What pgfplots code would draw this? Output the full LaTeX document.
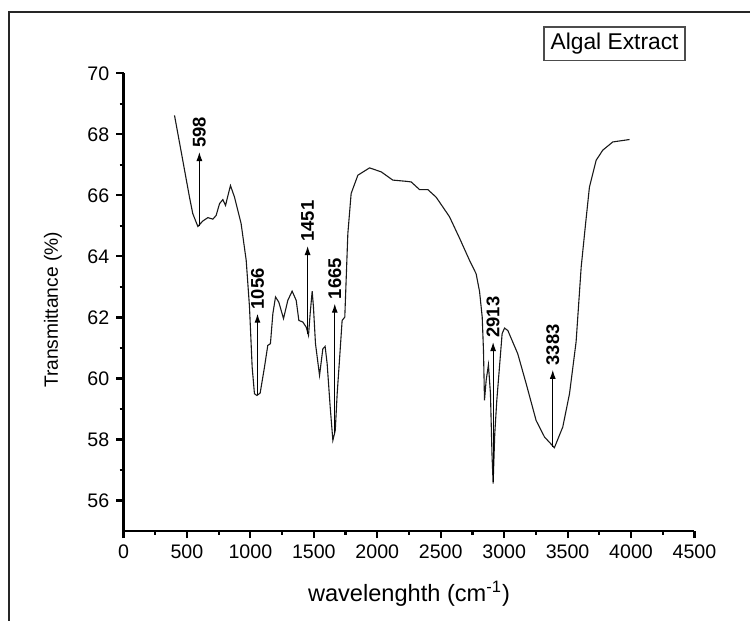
\documentclass[border=0pt]{standalone}
\usepackage{fontspec}
\setmainfont{Liberation Sans}
\usepackage{pgfplots}
\pgfplotsset{compat=1.18}
\usetikzlibrary{arrows.meta}

\begin{document}
\begin{tikzpicture}
\useasboundingbox (0pt,0pt) rectangle (375pt,310.5pt);
\draw[line width=1pt, black!85] (4.25pt,-20pt) rectangle (400pt,304.5pt);
\begin{axis}[
  at={(61.75pt,45pt)}, anchor=south west,
  scale only axis, width=285.5pt, height=228.85pt,
  xmin=0, xmax=4500, ymin=55, ymax=70,
  clip=false,
  axis lines=left,
  axis line style={-, line width=1.1pt, black},
  xtick={0,500,...,4500}, minor x tick num=1,
  ytick={56,58,...,70}, minor y tick num=1,
  tick align=outside,
  major tick length=3.6pt, minor tick length=2pt,
  every tick/.style={black, line width=1.1pt},
  tick label style={font=\fontsize{9.8}{11}\selectfont},
  /pgf/number format/assume math mode=true,
  /pgf/number format/set thousands separator={},
  xlabel={wavelenghth (cm\textsuperscript{-1})},
  ylabel={Transmittance (\%)},
  xlabel style={at={(axis description cs:0.5,-0.1366)}, anchor=center, font=\fontsize{11.8}{14}\selectfont},
  ylabel style={at={(axis description cs:-0.1235,0.483)}, anchor=center, font=\fontsize{9.6}{11}\selectfont},
]
\addplot[black!90, line width=0.55pt] coordinates {
(402,68.62) (467,67.15) (520,65.94) (546,65.40) (586,64.98) (625,65.16)
(665,65.27) (704,65.22) (730,65.34) (757,65.73) (783,65.86) (804,65.67)
(843,66.32) (875,65.94) (927,65.07) (967,63.87) (993,62.34) (1014,60.37)
(1032,59.50) (1051,59.44) (1077,59.52) (1111,60.37) (1137,61.08) (1158,61.14)
(1177,62.12) (1198,62.67) (1224,62.50) (1261,61.96) (1295,62.56) (1329,62.86)
(1361,62.56) (1382,61.90) (1413,61.85) (1440,61.68) (1458,61.41) (1471,62.12)
(1487,62.86) (1497,62.34) (1513,61.14) (1545,60.10) (1571,60.97) (1589,61.05)
(1605,60.48) (1629,59.06) (1650,57.97) (1669,58.30) (1684,59.50) (1702,60.59)
(1723,61.90) (1744,62.01) (1768,64.74) (1794,66.06) (1847,66.66) (1939,66.90)
(2031,66.77) (2122,66.50) (2228,66.46) (2267,66.44) (2333,66.19) (2398,66.19)
(2464,65.94) (2569,65.30) (2648,64.60) (2727,63.87) (2779,63.43) (2806,62.85)
(2827,62.01) (2837,60.92) (2845,59.28) (2858,59.93) (2876,60.45) (2892,59.50)
(2904,57.53) (2913,56.55) (2926,58.19) (2942,59.28) (2963,60.37) (2984,61.47)
(3003,61.65) (3029,61.57) (3107,60.81) (3174,59.82) (3252,58.62) (3318,58.08)
(3396,57.73) (3462,58.41) (3515,59.50) (3567,61.20) (3607,63.65) (3640,65.00)
(3672,66.27) (3725,67.15) (3777,67.48) (3856,67.75) (3988,67.83)
};
\node[draw=black!70, line width=0.6pt, inner sep=0pt, minimum width=70.5pt, minimum height=16.8pt, font=\fontsize{11.4}{14}\selectfont] at (axis description cs:0.86,1.0645) {Algal Extract};
\tikzset{lbl/.style={rotate=90, anchor=west, inner sep=2pt, font=\bfseries\fontsize{9.2}{11}\selectfont}}
\draw[-{Latex[length=4.5pt,width=3pt]}, line width=0.5pt] (axis cs:598,64.98) -- (axis cs:598,67.42) node[lbl] {598};
\draw[-{Latex[length=4.5pt,width=3pt]}, line width=0.5pt] (axis cs:1056,59.46) -- (axis cs:1056,62.12) node[lbl] {1056};
\draw[-{Latex[length=4.5pt,width=3pt]}, line width=0.5pt] (axis cs:1451,61.45) -- (axis cs:1451,64.34) node[lbl] {1451};
\draw[-{Latex[length=4.5pt,width=3pt]}, line width=0.5pt] (axis cs:1665,58.2) -- (axis cs:1665,62.45) node[lbl] {1665};
\draw[-{Latex[length=4.5pt,width=3pt]}, line width=0.5pt] (axis cs:2913,56.6) -- (axis cs:2913,61.19) node[lbl] {2913};
\draw[-{Latex[length=4.5pt,width=3pt]}, line width=0.5pt] (axis cs:3383,57.75) -- (axis cs:3383,60.28) node[lbl] {3383};
\end{axis}
\end{tikzpicture}
\end{document}
